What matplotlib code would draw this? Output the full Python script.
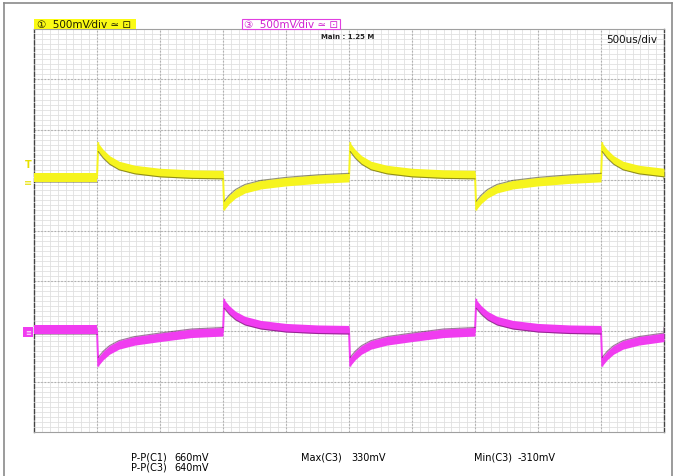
import numpy as np
import matplotlib
matplotlib.use("Agg")
import matplotlib.pyplot as plt
from matplotlib.patches import Rectangle
from matplotlib.lines import Line2D

# time base: 500us/div, 10 divisions; volts: 500mV/div, 8 divisions
edges_div = [1, 3, 5, 7, 9]          # switching instants (div)
edge_dirs = [1, -1, 1, -1, 1]        # C1 direction at each edge (C3 is opposite)

# shape of one segment after an edge, offsets in div
seg_offsets = [0.0, 0.02, 0.1, 0.2, 0.35, 0.6, 1.0, 1.5, 2.0]

# C1 (yellow), mV relative to its ground
c1_rise = [0, 300, 235, 175, 120, 80, 50, 35, 30]
c1_fall = [30, -275, -215, -160, -110, -70, -40, -15, 0]
c1_start = 0

# C3 (magenta), mV relative to its ground
c3_rise = [20, 295, 235, 180, 130, 90, 60, 45, 40]
c3_fall = [40, -275, -215, -160, -110, -70, -35, 5, 20]
c3_start = 40

c1_ground_div = 2.95   # ground markers measured from top (div)
c3_ground_div = 6.05

W, H = 676, 477
fig = plt.figure(figsize=(W / 100, H / 100), dpi=100)
ax = fig.add_axes([34 / W, (H - 433) / H, 630 / W, 403 / H])
ax.set_xlim(0, 10)
ax.set_ylim(8, 0)

# grid
for i in np.arange(0, 10.01, 0.125):
    ax.axvline(i, color="#e0e0e0", lw=0.6, zorder=0)
for j in np.arange(0, 8.01, 0.1):
    ax.axhline(j, color="#e0e0e0", lw=0.6, zorder=0)
for i in range(1, 10):
    ax.axvline(i, color="#b0b0b0", lw=0.8, ls=(0, (1.5, 1.5)), zorder=0)
for j in range(1, 8):
    ax.axhline(j, color="#b0b0b0", lw=0.8, ls=(0, (1.5, 1.5)), zorder=0)

for s in ["top", "bottom"]:
    ax.spines[s].set_color("#a0a0a0")
    ax.spines[s].set_linewidth(0.8)
for s in ["left", "right"]:
    ax.spines[s].set_color("#444444")
    ax.spines[s].set_linewidth(1.0)
    ax.spines[s].set_linestyle((0, (3, 1.5)))
ax.set_xticks([])
ax.set_yticks([])

half = 0.085  # half thickness of the noisy trace band (div)


def draw_trace(start, rise, fall, sign0, ground, color, dark):
    y0 = ground - start / 500
    ax.fill_between([0, edges_div[0]], y0 - half, y0 + half, color=color, lw=0, zorder=3)
    ax.plot([0, edges_div[0]], [y0 + half] * 2, color=dark, lw=0.6, alpha=0.45, zorder=4)
    for e, d in zip(edges_div, edge_dirs):
        d = d * sign0
        vals = rise if d > 0 else fall
        xs = np.array([min(e + o, 10) for o in seg_offsets])
        ys = np.array([ground - v / 500 for v in vals])
        # thin vertical edge, then the band
        tip = ys[1] - half if d > 0 else ys[1] + half
        ax.plot([xs[0], xs[1]], [ys[0], tip], color=color, lw=1.4, zorder=3)
        ax.fill_between(xs[1:], ys[1:] - half, ys[1:] + half, color=color, lw=0, zorder=3)
        if d > 0:
            ax.plot(xs[1:], ys[1:] + half, color=dark, lw=0.8, alpha=0.55, zorder=4)
        else:
            ax.plot(xs[1:], ys[1:] - half, color=dark, lw=0.8, alpha=0.55, zorder=4)


draw_trace(c1_start, c1_rise, c1_fall, 1, c1_ground_div, "#f6f41e", "#3c3a10")
draw_trace(c3_start, c3_rise, c3_fall, -1, c3_ground_div, "#f03cf0", "#50104a")

fonts = ["Liberation Sans Narrow", "DejaVu Sans", "Noto Sans CJK JP"]


def ptext(x, y, s, **kw):
    fig.text(x / W, 1 - y / H, s, family=fonts, **kw)


# outer frame
fig.add_artist(Line2D([4 / W, 4 / W], [0, 1 - 4 / H], color="#8a8a8a", lw=1.2))
fig.add_artist(Line2D([4 / W, 672 / W], [1 - 4 / H, 1 - 4 / H], color="#8a8a8a", lw=1.2))
fig.add_artist(Line2D([672 / W, 672 / W], [0, 1 - 4 / H], color="#8a8a8a", lw=1.2))

# channel header boxes
fig.add_artist(Rectangle((34 / W, 1 - 30 / H), 102 / W, 10 / H, facecolor="#fafa14",
                         edgecolor="none", transform=fig.transFigure))
ptext(37, 25, "\u2460  500mV\u2044div \u2243 \u22a1", fontsize=7.5, color="#202000", va="center")
fig.add_artist(Rectangle((242 / W, 1 - 30 / H), 98 / W, 10 / H, facecolor="white",
                         edgecolor="#e040e0", lw=0.8, transform=fig.transFigure))
ptext(244, 25, "\u2462  500mV\u2044div \u2243 \u22a1", fontsize=7.5, color="#d020d0", va="center")

ptext(321, 37, "Main : 1.25 M", fontsize=5, fontweight="bold", color="#222222", va="center")
ptext(606, 40, "500us/div", fontsize=7.5, color="#111111", va="center")

# left markers
ptext(25, 165, "T", fontsize=7, color="#e6e000", fontweight="bold", va="center")
ptext(24, 183, "\u2261", fontsize=7, color="#e6e000", va="center")
fig.add_artist(Rectangle((23 / W, 1 - 338 / H), 10 / W, 10 / H, facecolor="#f03cf0",
                         edgecolor="none", transform=fig.transFigure))
ptext(25, 333, "\u2261", fontsize=5, color="white", va="center")

# measurements
meas_labels = ["P-P(C1)", "P-P(C3)", "Max(C3)", "Min(C3)"]
meas_values = ["660mV", "640mV", "330mV", "-310mV"]
ptext(131, 458, meas_labels[0], fontsize=7, va="center")
ptext(174, 458, meas_values[0], fontsize=7, va="center")
ptext(131, 468, meas_labels[1], fontsize=7, va="center")
ptext(174, 468, meas_values[1], fontsize=7, va="center")
ptext(301, 458, meas_labels[2], fontsize=7, va="center")
ptext(351, 458, meas_values[2], fontsize=7, va="center")
ptext(474, 458, meas_labels[3], fontsize=7, va="center")
ptext(518, 458, meas_values[3], fontsize=7, va="center")

fig.savefig("out.png", dpi=100)
